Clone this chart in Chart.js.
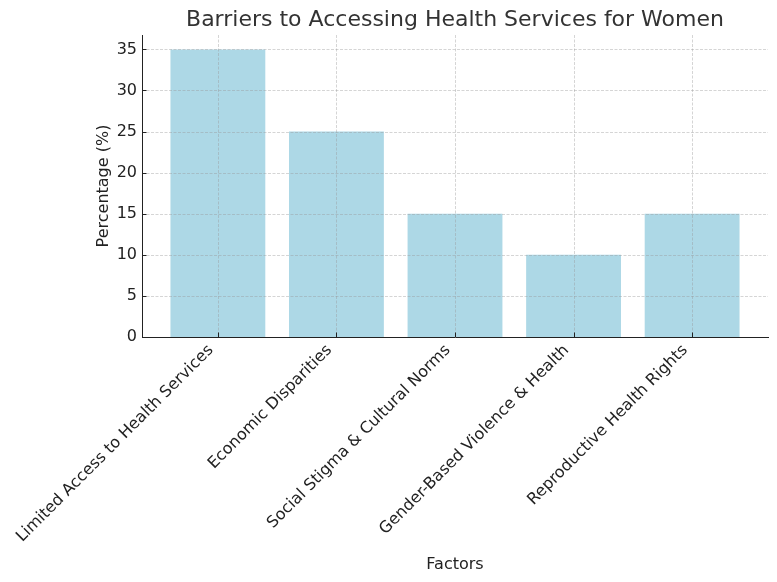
<!DOCTYPE html>
<html>
<head>
<meta charset="utf-8">
<script src="https://cdn.jsdelivr.net/npm/chart.js@4"></script>
<style>
  body { margin: 0; background: #fff; }
  canvas { display: block; }
</style>
</head>
<body>
<canvas id="grafico" width="777" height="582"></canvas>
<script>
// datos del grafico
const categorias = [
    'Limited Access to Health Services',
    'Economic Disparities',
    'Social Stigma & Cultural Norms',
    'Gender-Based Violence & Health',
    'Reproductive Health Rights'
];
const porcentajes = [35, 25, 15, 10, 15];
const ticksY = [0, 5, 10, 15, 20, 25, 30, 35];
const titulo = 'Barriers to Accessing Health Services for Women';

const fuente = 'DejaVu Sans';

// rejilla punteada encima de las barras y marcas hacia dentro, como en matplotlib
const rejillaEncima = {
    id: 'rejillaEncima',
    afterDatasetsDraw(chart) {
        const ctx = chart.ctx;
        const area = chart.chartArea;
        const x = chart.scales.x;
        const y = chart.scales.y;
        ctx.save();
        ctx.strokeStyle = 'rgba(150,150,150,0.5)';
        ctx.lineWidth = 0.8;
        ctx.setLineDash([3, 1.5]);
        ticksY.forEach(v => {
            if (v === 0) return;
            const py = Math.round(y.getPixelForValue(v)) + 0.5;
            ctx.beginPath();
            ctx.moveTo(area.left, py);
            ctx.lineTo(area.right, py);
            ctx.stroke();
        });
        categorias.forEach((c, i) => {
            const px = Math.round(x.getPixelForValue(i)) + 0.5;
            ctx.beginPath();
            ctx.moveTo(px, area.top);
            ctx.lineTo(px, area.bottom);
            ctx.stroke();
        });
        // marcas de los ejes
        ctx.setLineDash([]);
        ctx.strokeStyle = '#222';
        ctx.lineWidth = 1;
        ticksY.forEach(v => {
            const py = Math.round(y.getPixelForValue(v)) + 0.5;
            ctx.beginPath();
            ctx.moveTo(area.left, py);
            ctx.lineTo(area.left + 4.5, py);
            ctx.stroke();
        });
        categorias.forEach((c, i) => {
            const px = Math.round(x.getPixelForValue(i)) + 0.5;
            ctx.beginPath();
            ctx.moveTo(px, area.bottom);
            ctx.lineTo(px, area.bottom - 4.5);
            ctx.stroke();
        });
        ctx.restore();
    }
};

// titulo centrado sobre el area del grafico
const tituloArea = {
    id: 'tituloArea',
    afterDraw(chart) {
        const ctx = chart.ctx;
        const area = chart.chartArea;
        ctx.save();
        ctx.font = '22px "' + fuente + '"';
        ctx.fillStyle = '#333';
        ctx.textAlign = 'center';
        ctx.textBaseline = 'middle';
        ctx.fillText(titulo, (area.left + area.right) / 2, 20);
        ctx.restore();
    }
};

const ctx = document.getElementById('grafico').getContext('2d');
new Chart(ctx, {
    type: 'bar',
    data: {
        datasets: [{
            data: porcentajes.map((v, i) => ({ x: i, y: v })),
            backgroundColor: '#ADD8E6',
            borderWidth: 0,
            barPercentage: 0.8,
            categoryPercentage: 1
        }]
    },
    options: {
        responsive: false,
        animation: false,
        devicePixelRatio: 1,
        layout: { padding: { top: 35, right: 9, left: 90, bottom: 0 } },
        plugins: {
            legend: { display: false },
            tooltip: { enabled: false }
        },
        scales: {
            x: {
                type: 'linear',
                offset: false,
                min: -0.64,
                max: 4.64,
                afterBuildTicks: s => { s.ticks = categorias.map((c, i) => ({ value: i })); },
                afterFit: s => { s.height = 245; },
                ticks: {
                    callback: v => categorias[v],
                    autoSkip: false,
                    maxRotation: 45,
                    minRotation: 45,
                    padding: 4,
                    labelOffset: -7,
                    color: '#222',
                    font: { family: fuente, size: 16 }
                },
                grid: { display: false, drawTicks: false, tickLength: 0, offset: false },
                border: { color: '#222', width: 1 },
                title: {
                    display: true,
                    text: 'Factors',
                    color: '#222',
                    font: { family: fuente, size: 16 },
                    padding: { top: 4, bottom: 8 }
                }
            },
            y: {
                min: 0,
                max: 36.75,
                afterBuildTicks: s => { s.ticks = ticksY.map(v => ({ value: v })); },
                afterFit: s => { s.width = 52; },
                ticks: {
                    padding: 5,
                    color: '#222',
                    font: { family: fuente, size: 16 }
                },
                grid: { display: false, drawTicks: false, tickLength: 0 },
                border: { color: '#222', width: 1 },
                title: {
                    display: true,
                    text: 'Percentage (%)',
                    color: '#222',
                    font: { family: fuente, size: 16 },
                    padding: { top: 4, bottom: 4 }
                }
            }
        }
    },
    plugins: [rejillaEncima, tituloArea]
});
</script>
</body>
</html>
